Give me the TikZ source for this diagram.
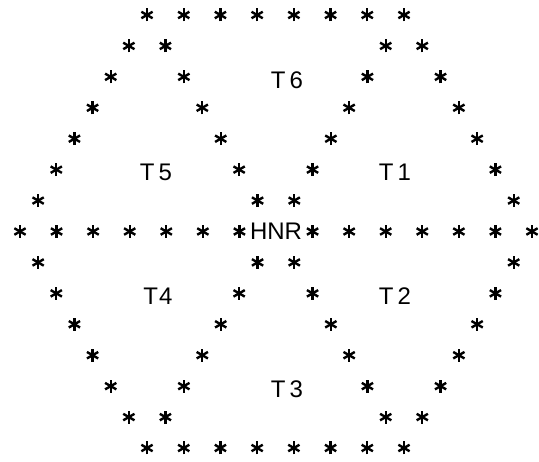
\documentclass[tikz,border=0pt]{standalone}
\usepackage{fontspec}
\setmainfont{Liberation Sans}
\usetikzlibrary{calc}
\begin{document}
\begin{tikzpicture}[x=1pt,y=-1pt,
  astspoke/.style={line width=2.4pt,line cap=butt},
  ast/.pic={\foreach \a in {90,30,150}{\draw[astspoke] (\a:6.5) -- (\a+180:6.5);}},
  lbl/.style={font=\fontsize{24}{25}\selectfont,inner sep=0pt}]
\useasboundingbox (0,0) rectangle (539,462);
% hexagon vertices and centre
\coordinate (C) at (276,231.5);
\coordinate (V1) at (147,15);
\coordinate (V2) at (404,15);
\coordinate (V3) at (532,231.5);
\coordinate (V4) at (404,448);
\coordinate (V5) at (147,448);
\coordinate (V6) at (20,231.5);
% outer edges: 7 intervals each
\foreach \s/\e in {V1/V2,V2/V3,V3/V4,V4/V5,V5/V6,V6/V1}{
  \foreach \k in {0,...,6}{
    \path ($(\s)!\k/7!(\e)$) pic {ast};
  }
}
% spokes from centre to each vertex
\foreach \v in {V1,V2,V3,V4,V5,V6}{
  \foreach \k in {1,...,6}{
    \path ($(C)!\k/7!(\v)$) pic {ast};
  }
}
\node[lbl] (hnr) at (C) {HNR};
\node[lbl] (t6) at (287,80) {T\kern4pt6};
\node[lbl] (t5) at (156,172) {T\kern4pt5};
\node[lbl] (t1) at (395,172) {T\kern4pt1};
\node[lbl] (t4) at (158,296) {T\kern1pt4};
\node[lbl] (t2) at (395,296) {T\kern4pt2};
\node[lbl] (t3) at (287,389) {T\kern4pt3};
\end{tikzpicture}
\end{document}
